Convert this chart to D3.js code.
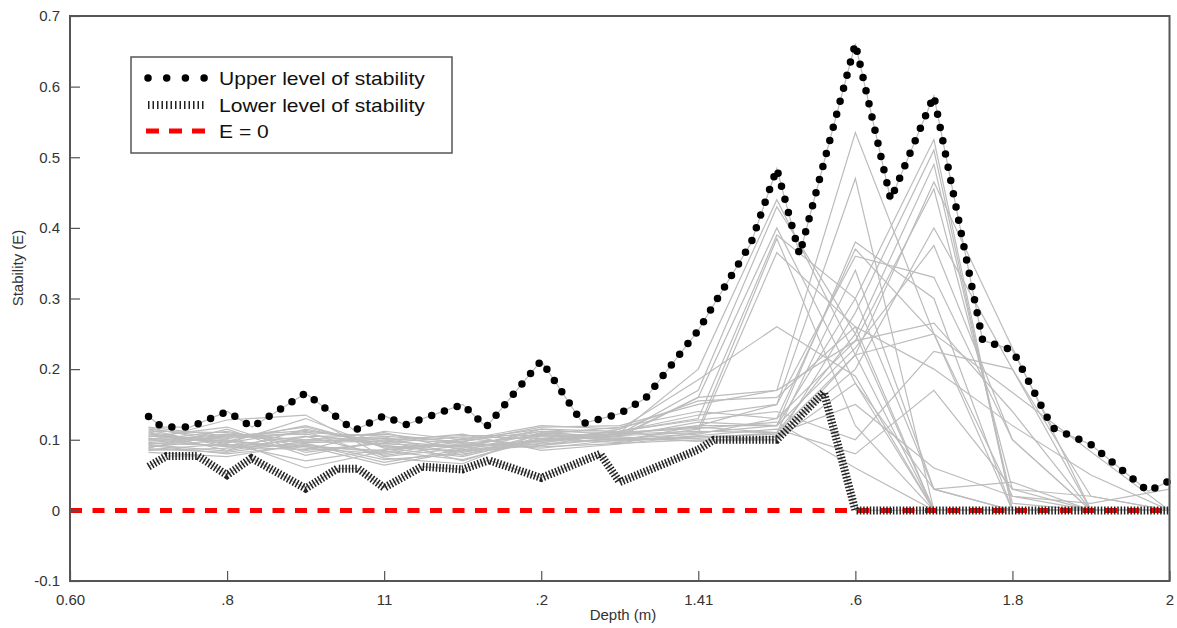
<!DOCTYPE html>
<html>
<head>
<meta charset="utf-8">
<script src="https://cdn.jsdelivr.net/npm/d3@7"></script>
<style>
  body { margin: 0; background: #fff; }
  svg { display: block; font-family: "Liberation Sans", Arial, Helvetica, sans-serif; }
</style>
</head>
<body>
<div id="chart"></div>
<script>
// depth grid of the individual profiles (m)
const depths = [0.7, 0.8, 0.9, 1.0, 1.1, 1.2, 1.3, 1.4, 1.5, 1.6, 1.7, 1.8, 1.9, 2.0];

// individual stability profiles, one value per depth above
const profiles = [
  [0.118, 0.105, 0.113, 0.098, 0.090, 0.112, 0.110, 0.200, 0.440, 0.220, 0.000, 0.000, 0.000, 0.000],
  [0.112, 0.110, 0.098, 0.102, 0.095, 0.105, 0.108, 0.170, 0.430, 0.250, 0.000, 0.000, 0.000, 0.000],
  [0.105, 0.098, 0.120, 0.090, 0.084, 0.100, 0.104, 0.160, 0.400, 0.180, 0.000, 0.000, 0.000, 0.000],
  [0.100, 0.112, 0.090, 0.085, 0.100, 0.115, 0.112, 0.130, 0.390, 0.300, 0.030, 0.000, 0.000, 0.000],
  [0.095, 0.092, 0.105, 0.078, 0.092, 0.108, 0.100, 0.115, 0.385, 0.120, 0.000, 0.000, 0.000, 0.000],
  [0.090, 0.100, 0.085, 0.095, 0.088, 0.098, 0.106, 0.110, 0.365, 0.260, 0.000, 0.000, 0.000, 0.000],
  [0.085, 0.088, 0.095, 0.072, 0.080, 0.095, 0.115, 0.185, 0.260, 0.190, 0.000, 0.000, 0.000, 0.000],
  [0.115, 0.102, 0.110, 0.105, 0.097, 0.118, 0.120, 0.150, 0.170, 0.535, 0.250, 0.000, 0.000, 0.000],
  [0.108, 0.095, 0.130, 0.088, 0.076, 0.102, 0.112, 0.135, 0.150, 0.470, 0.000, 0.000, 0.000, 0.000],
  [0.098, 0.108, 0.100, 0.110, 0.085, 0.110, 0.098, 0.120, 0.120, 0.380, 0.300, 0.000, 0.000, 0.000],
  [0.092, 0.080, 0.092, 0.082, 0.102, 0.092, 0.102, 0.108, 0.130, 0.370, 0.250, 0.020, 0.000, 0.000],
  [0.088, 0.115, 0.078, 0.100, 0.070, 0.105, 0.108, 0.112, 0.110, 0.340, 0.030, 0.000, 0.000, 0.000],
  [0.110, 0.085, 0.115, 0.094, 0.090, 0.100, 0.105, 0.125, 0.120, 0.300, 0.525, 0.000, 0.000, 0.000],
  [0.102, 0.098, 0.088, 0.080, 0.098, 0.112, 0.100, 0.105, 0.100, 0.280, 0.510, 0.000, 0.000, 0.000],
  [0.096, 0.105, 0.108, 0.092, 0.082, 0.098, 0.110, 0.118, 0.110, 0.250, 0.490, 0.010, 0.000, 0.000],
  [0.086, 0.094, 0.070, 0.086, 0.094, 0.090, 0.095, 0.100, 0.100, 0.220, 0.465, 0.230, 0.000, 0.000],
  [0.114, 0.090, 0.100, 0.104, 0.078, 0.108, 0.118, 0.140, 0.130, 0.240, 0.455, 0.030, 0.000, 0.000],
  [0.082, 0.076, 0.094, 0.068, 0.086, 0.094, 0.102, 0.098, 0.105, 0.200, 0.400, 0.200, 0.000, 0.000],
  [0.104, 0.118, 0.082, 0.096, 0.104, 0.102, 0.096, 0.110, 0.120, 0.230, 0.375, 0.100, 0.000, 0.000],
  [0.099, 0.128, 0.135, 0.076, 0.088, 0.115, 0.106, 0.160, 0.170, 0.240, 0.265, 0.140, 0.000, 0.000],
  [0.093, 0.084, 0.104, 0.108, 0.096, 0.088, 0.100, 0.102, 0.110, 0.220, 0.250, 0.167, 0.083, 0.000],
  [0.107, 0.100, 0.060, 0.084, 0.072, 0.100, 0.112, 0.128, 0.140, 0.100, 0.225, 0.200, 0.020, 0.000],
  [0.089, 0.107, 0.096, 0.098, 0.108, 0.085, 0.094, 0.106, 0.115, 0.080, 0.170, 0.030, 0.020, 0.000],
  [0.117, 0.096, 0.112, 0.074, 0.066, 0.110, 0.104, 0.098, 0.100, 0.180, 0.030, 0.040, 0.000, 0.000],
  [0.101, 0.090, 0.086, 0.112, 0.100, 0.120, 0.115, 0.155, 0.160, 0.260, 0.200, 0.120, 0.050, 0.000],
  [0.094, 0.103, 0.118, 0.090, 0.092, 0.096, 0.108, 0.120, 0.150, 0.360, 0.330, 0.100, 0.000, 0.000],
  [0.087, 0.082, 0.098, 0.100, 0.106, 0.106, 0.098, 0.104, 0.108, 0.150, 0.060, 0.020, 0.010, 0.030],
  [0.111, 0.093, 0.091, 0.064, 0.084, 0.092, 0.110, 0.116, 0.125, 0.060, 0.000, 0.000, 0.000, 0.000]
];

// upper level of stability
const upperDepth = [0.70, 0.717, 0.753, 0.80, 0.832, 0.90, 0.962, 1.00, 1.027, 1.10, 1.13, 1.20, 1.253, 1.30, 1.333,
  1.40, 1.467, 1.50, 1.529, 1.60, 1.645, 1.70, 1.762, 1.80, 1.851, 1.90, 1.973, 2.00];
const upperE = [0.133, 0.118, 0.118, 0.140, 0.118, 0.166, 0.113, 0.134, 0.121, 0.150, 0.118, 0.212, 0.123, 0.137, 0.159,
  0.255, 0.378, 0.484, 0.362, 0.661, 0.440, 0.587, 0.241, 0.227, 0.117, 0.093, 0.027, 0.042];

// lower level of stability
const lowerDepth = [0.70, 0.723, 0.763, 0.80, 0.831, 0.90, 0.94, 0.967, 1.00, 1.048, 1.10, 1.133, 1.20, 1.275, 1.30,
  1.40, 1.42, 1.50, 1.56, 1.60, 2.00];
const lowerE = [0.062, 0.077, 0.077, 0.050, 0.074, 0.031, 0.059, 0.059, 0.032, 0.062, 0.058, 0.071, 0.046, 0.080, 0.040,
  0.086, 0.100, 0.100, 0.167, 0.000, 0.000];

// E = 0 reference
const zeroDepth = [0.6, 2.0];
const zeroE = [0, 0];

const xTicks = [0.6, 0.8, 1.0, 1.2, 1.4, 1.6, 1.8, 2.0];
const xTickLabels = ['0.60', '.8', '11', '.2', '1.41', '.6', '1.8', '2'];
const yTicks = [-0.1, 0, 0.1, 0.2, 0.3, 0.4, 0.5, 0.6, 0.7];
const yTickLabels = ['-0.1', '0', '0.1', '0.2', '0.3', '0.4', '0.5', '0.6', '0.7'];

const legendLabels = ['Upper level of stability', 'Lower level of stability', 'E = 0'];

const width = 1177;
const height = 628;
const plot = { left: 70, right: 1169.5, top: 16, bottom: 581 };

const svg = d3.select('#chart')
  .append('svg')
  .attr('width', width)
  .attr('height', height);

const x = d3.scaleLinear().domain([0.6, 2.0]).range([plot.left, plot.right]);
const y = d3.scaleLinear().domain([-0.1, 0.7]).range([plot.bottom, plot.top]);

const line = d3.line().x((d) => x(d[0])).y((d) => y(d[1]));

// gray profiles
svg.append('g')
  .selectAll('path')
  .data(profiles)
  .join('path')
  .attr('d', (vals) => line(vals.map((v, i) => [depths[i], v])))
  .attr('fill', 'none')
  .attr('stroke', '#bcbcbc')
  .attr('stroke-width', 1.2);

const upperPts = upperDepth.map((d, i) => [d, upperE[i]]);
const lowerPts = lowerDepth.map((d, i) => [d, lowerE[i]]);
const zeroPts = zeroDepth.map((d, i) => [d, zeroE[i]]);

// thin gray under the envelopes
[upperPts, lowerPts].forEach((pts) => {
  svg.append('path')
    .attr('d', line(pts))
    .attr('fill', 'none')
    .attr('stroke', '#bcbcbc')
    .attr('stroke-width', 1.2);
});

// E = 0
svg.append('path')
  .attr('d', line(zeroPts))
  .attr('fill', 'none')
  .attr('stroke', '#ff0000')
  .attr('stroke-width', 5)
  .attr('stroke-dasharray', '12 10.5');

// lower level: dense hatch
svg.append('path')
  .attr('d', line(lowerPts))
  .attr('fill', 'none')
  .attr('stroke', '#222')
  .attr('stroke-width', 8)
  .attr('stroke-dasharray', '1.5 1.8');

// upper level: round dots
svg.append('path')
  .attr('d', line(upperPts))
  .attr('fill', 'none')
  .attr('stroke', '#000')
  .attr('stroke-width', 7.5)
  .attr('stroke-linecap', 'round')
  .attr('stroke-dasharray', '0 13.5');

// axes
const xAxis = d3.axisBottom(x)
  .tickValues(xTicks)
  .tickFormat((d, i) => xTickLabels[i])
  .tickSizeInner(-10)
  .tickSizeOuter(0)
  .tickPadding(13);

const yAxis = d3.axisLeft(y)
  .tickValues(yTicks)
  .tickFormat((d, i) => yTickLabels[i])
  .tickSizeInner(-10)
  .tickSizeOuter(0)
  .tickPadding(10);

const gx = svg.append('g')
  .attr('transform', `translate(0, ${plot.bottom})`)
  .call(xAxis);
const gy = svg.append('g')
  .attr('transform', `translate(${plot.left}, 0)`)
  .call(yAxis);

[gx, gy].forEach((g) => {
  g.select('.domain').remove();
  g.selectAll('.tick line').attr('stroke', '#555').attr('stroke-width', 1.2);
  g.selectAll('.tick text')
    .attr('fill', '#333')
    .style('font-size', '15px');
});

// frame
svg.append('rect')
  .attr('x', plot.left)
  .attr('y', plot.top)
  .attr('width', plot.right - plot.left)
  .attr('height', plot.bottom - plot.top)
  .attr('fill', 'none')
  .attr('stroke', '#555')
  .attr('stroke-width', 2);

// axis titles
svg.append('text')
  .attr('x', 623)
  .attr('y', 620)
  .attr('text-anchor', 'middle')
  .attr('fill', '#333')
  .style('font-size', '15px')
  .text('Depth (m)');

svg.append('text')
  .attr('transform', 'translate(23, 268) rotate(-90)')
  .attr('text-anchor', 'middle')
  .attr('fill', '#333')
  .style('font-size', '15px')
  .text('Stability (E)');

// legend
const legend = svg.append('g');
legend.append('rect')
  .attr('x', 131)
  .attr('y', 57)
  .attr('width', 321)
  .attr('height', 96)
  .attr('fill', '#fff')
  .attr('stroke', '#555')
  .attr('stroke-width', 1.5);

const rowY = [78, 105, 131];
const sampleStyles = [
  { stroke: '#000', width: 7.5, dash: '0 18.7', cap: 'round', x1: 148, x2: 205 },
  { stroke: '#222', width: 8, dash: '1.5 3', cap: 'butt', x1: 148, x2: 205 },
  { stroke: '#ff0000', width: 5, dash: '13 10', cap: 'butt', x1: 146, x2: 206 }
];

legendLabels.forEach((label, i) => {
  const s = sampleStyles[i];
  legend.append('line')
    .attr('x1', s.x1)
    .attr('x2', s.x2)
    .attr('y1', rowY[i])
    .attr('y2', rowY[i])
    .attr('stroke', s.stroke)
    .attr('stroke-width', s.width)
    .attr('stroke-linecap', s.cap)
    .attr('stroke-dasharray', s.dash);
  legend.append('text')
    .attr('transform', `translate(219, ${rowY[i] + 6.5}) scale(1.17, 1)`)
    .attr('fill', '#111')
    .style('font-size', '18px')
    .text(label);
});
</script>
</body>
</html>
